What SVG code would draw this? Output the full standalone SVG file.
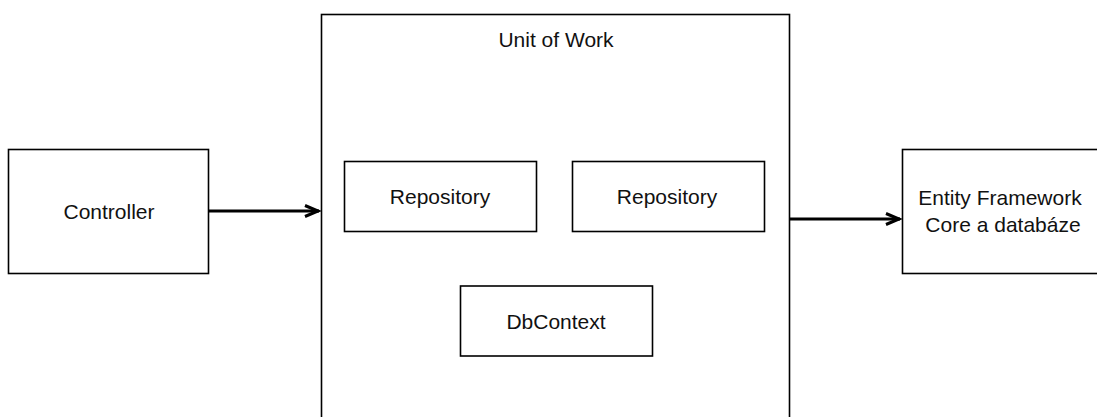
<svg xmlns="http://www.w3.org/2000/svg" width="1097" height="417" viewBox="0 0 1097 417">
<style>
.box{fill:#fff;stroke:#000;stroke-width:1.6}
.lbl{font-family:"Liberation Sans",Arial,sans-serif;font-size:21px;fill:#111;text-anchor:middle}
.edge{stroke:#000;stroke-width:3;fill:none}
</style>
<defs>
<marker id="arr" markerUnits="userSpaceOnUse" markerWidth="20" markerHeight="16" refX="15" refY="7" orient="auto" viewBox="0 0 20 14">
<path d="M1,1.5 L14,7 L1,12.5" fill="none" stroke="#000" stroke-width="3"/>
</marker>
</defs>
<rect width="1097" height="417" fill="#fff"/>
<g id="unitofwork">
<rect class="box" x="321.5" y="14.5" width="468" height="420"/>
<text class="lbl" x="556" y="47">Unit of Work</text>
</g>
<g id="controller">
<rect class="box" x="8.5" y="149.5" width="200" height="124"/>
<text class="lbl" x="109" y="219">Controller</text>
</g>
<g id="repository1">
<rect class="box" x="344.5" y="161.5" width="192" height="70"/>
<text class="lbl" x="440" y="204">Repository</text>
</g>
<g id="repository2">
<rect class="box" x="572.5" y="161.5" width="192" height="70"/>
<text class="lbl" x="667" y="204">Repository</text>
</g>
<g id="dbcontext">
<rect class="box" x="460.5" y="286" width="192" height="70"/>
<text class="lbl" x="556" y="329">DbContext</text>
</g>
<g id="efcore">
<rect class="box" x="902.5" y="149.5" width="220" height="124"/>
<text class="lbl" x="1000" y="205">Entity Framework</text>
<text class="lbl" x="1003" y="231.5">Core a databáze</text>
</g>
<g id="connectors">
<line class="edge" x1="209" y1="211" x2="319" y2="211" marker-end="url(#arr)"/>
<line class="edge" x1="790" y1="219" x2="900" y2="219" marker-end="url(#arr)"/>
</g>
</svg>
